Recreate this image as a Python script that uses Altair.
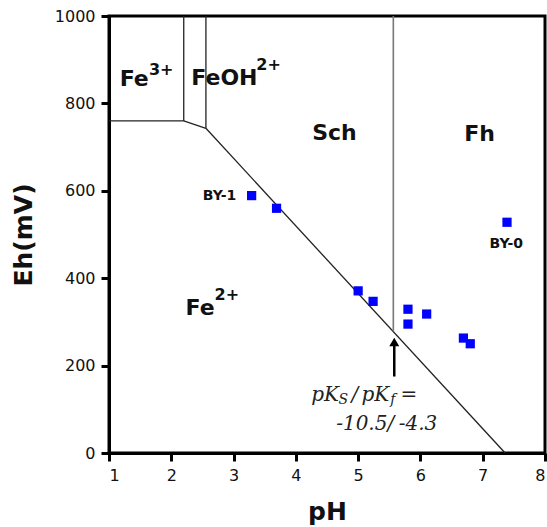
import altair as alt
import pandas as pd

# Sample measurements (pH, Eh in mV)
sample_ph = [3.29, 3.69, 5.00, 5.24, 5.80, 5.80, 6.10, 6.69, 6.80, 7.39]
sample_eh = [589, 560, 371, 347, 329, 295, 318, 263, 250, 528]

# Phase-boundary segments: (segment id, pH, Eh)
bound_id = ["a", "a", "b", "b", "c", "c", "d", "d", "e", "e"]
bound_ph = [1.00, 2.20, 2.20, 2.20, 2.20, 2.556, 2.556, 2.556, 2.556, 7.36]
bound_eh = [760, 760, 760, 1000, 760, 743, 743, 1000, 743, 0]

# Schwertmannite / ferrihydrite boundary
sf_ph = [5.565, 5.565]
sf_eh = [278, 1000]

# Field labels (main text and superscripts)
field_text = ["Fe", "FeOH", "Sch", "Fh", "Fe"]
field_ph = [1.172, 2.322, 4.262, 6.705, 2.230]
field_eh = [840, 843, 717, 715, 316]
sup_text = ["3+", "2+", "2+"]
sup_ph = [1.642, 3.364, 2.695]
sup_eh = [866, 877, 351]

# Sample names
name_text = ["BY-1", "BY-0"]
name_ph = [3.044, 7.378]
name_eh = [578, 470]

# Equilibrium-constant annotation
ann_text = ["pK", "/", "pK", "=", "-10.5/", "-4.3"]
ann_ph = [4.246, 4.892, 5.053, 5.680, 4.647, 5.651]
ann_eh = [118, 118, 118, 118, 53, 53]
sub_text = ["S", "f"]
sub_ph = [4.684, 5.515]
sub_eh = [112, 112]

# Arrow pointing to the boundary intersection
arrow_ph = [5.58]
arrow_shaft = [175, 250]
arrow_tip = [254]

x_scale = alt.Scale(domain=[1, 8], nice=False, zero=False)
y_scale = alt.Scale(domain=[0, 1000], nice=False, zero=False)

SANS = "DejaVu Sans"
SERIF = "DejaVu Serif"

x_axis = alt.Axis(
    values=list(range(1, 9)), format="d", title="pH", grid=False,
    domainColor="black", domainWidth=3, tickColor="black", tickWidth=3, tickSize=8,
    labelFont=SANS, labelFontSize=16, labelColor="#111", labelPadding=6,
    titleFont=SANS, titleFontSize=25, titleFontWeight="bold", titleColor="#111",
    titlePadding=16,
)
y_axis = alt.Axis(
    values=list(range(0, 1001, 200)), format="d", title="Eh(mV)", grid=False,
    domainColor="black", domainWidth=3, tickColor="black", tickWidth=3, tickSize=8,
    labelFont=SANS, labelFontSize=16, labelColor="#111", labelPadding=6,
    titleFont=SANS, titleFontSize=25, titleFontWeight="bold", titleColor="#111",
    titlePadding=18,
)

bounds = pd.DataFrame({"seg": bound_id, "ph": bound_ph, "eh": bound_eh})
lines = alt.Chart(bounds).mark_line(color="#222", strokeWidth=1.3).encode(
    x=alt.X("ph:Q", scale=x_scale, axis=x_axis),
    y=alt.Y("eh:Q", scale=y_scale, axis=y_axis),
    detail="seg:N",
)

sf = pd.DataFrame({"ph": sf_ph, "eh": sf_eh})
sf_line = alt.Chart(sf).mark_line(color="#777", strokeWidth=1.6).encode(
    x=alt.X("ph:Q", scale=x_scale), y=alt.Y("eh:Q", scale=y_scale)
)

samples = pd.DataFrame({"ph": sample_ph, "eh": sample_eh})
points = alt.Chart(samples).mark_square(color="#0000ff", size=85, opacity=1).encode(
    x=alt.X("ph:Q", scale=x_scale), y=alt.Y("eh:Q", scale=y_scale)
)

fields = pd.DataFrame({"t": field_text, "ph": field_ph, "eh": field_eh})
field_lbl = alt.Chart(fields).mark_text(
    font=SANS, fontSize=22, fontWeight="bold", align="left", baseline="alphabetic", color="#111"
).encode(x=alt.X("ph:Q", scale=x_scale), y=alt.Y("eh:Q", scale=y_scale), text="t:N")

sups = pd.DataFrame({"t": sup_text, "ph": sup_ph, "eh": sup_eh})
sup_lbl = alt.Chart(sups).mark_text(
    font=SANS, fontSize=16, fontWeight="bold", align="left", baseline="alphabetic", color="#111"
).encode(x=alt.X("ph:Q", scale=x_scale), y=alt.Y("eh:Q", scale=y_scale), text="t:N")

names = pd.DataFrame({"t": name_text, "ph": name_ph, "eh": name_eh})
name_r = alt.Chart(names.iloc[[0]]).mark_text(
    font=SANS, fontSize=14, fontWeight="bold", align="right", baseline="alphabetic", color="#111"
).encode(x=alt.X("ph:Q", scale=x_scale), y=alt.Y("eh:Q", scale=y_scale), text="t:N")
name_c = alt.Chart(names.iloc[[1]]).mark_text(
    font=SANS, fontSize=14, fontWeight="bold", align="center", baseline="alphabetic", color="#111"
).encode(x=alt.X("ph:Q", scale=x_scale), y=alt.Y("eh:Q", scale=y_scale), text="t:N")

ann = pd.DataFrame({"t": ann_text, "ph": ann_ph, "eh": ann_eh})
ann_lbl = alt.Chart(ann).mark_text(
    font=SERIF, fontSize=20, fontStyle="italic", align="left", baseline="alphabetic", color="#222"
).encode(x=alt.X("ph:Q", scale=x_scale), y=alt.Y("eh:Q", scale=y_scale), text="t:N")

subs = pd.DataFrame({"t": sub_text, "ph": sub_ph, "eh": sub_eh})
sub_lbl = alt.Chart(subs).mark_text(
    font=SERIF, fontSize=14, fontStyle="italic", align="left", baseline="alphabetic", color="#222"
).encode(x=alt.X("ph:Q", scale=x_scale), y=alt.Y("eh:Q", scale=y_scale), text="t:N")

shaft = pd.DataFrame({"ph": arrow_ph * 2, "eh": arrow_shaft})
arrow_line = alt.Chart(shaft).mark_line(color="black", strokeWidth=2.5).encode(
    x=alt.X("ph:Q", scale=x_scale), y=alt.Y("eh:Q", scale=y_scale)
)
tip = pd.DataFrame({"ph": arrow_ph, "eh": arrow_tip})
arrow_head = alt.Chart(tip).mark_point(
    shape="triangle-up", size=100, filled=True, color="black", opacity=1
).encode(x=alt.X("ph:Q", scale=x_scale), y=alt.Y("eh:Q", scale=y_scale))

chart = alt.layer(
    lines, sf_line, arrow_line, arrow_head, points,
    field_lbl, sup_lbl, name_r, name_c, ann_lbl, sub_lbl,
).properties(
    width=436, height=437,
    autosize=alt.AutoSizeParams(type="none"),
    padding={"left": 109, "top": 16, "right": 2, "bottom": 74},
    background="white",
).configure_view(stroke="black", strokeWidth=3)

chart.save("out.html", embed_options={"renderer": "svg", "actions": False})
